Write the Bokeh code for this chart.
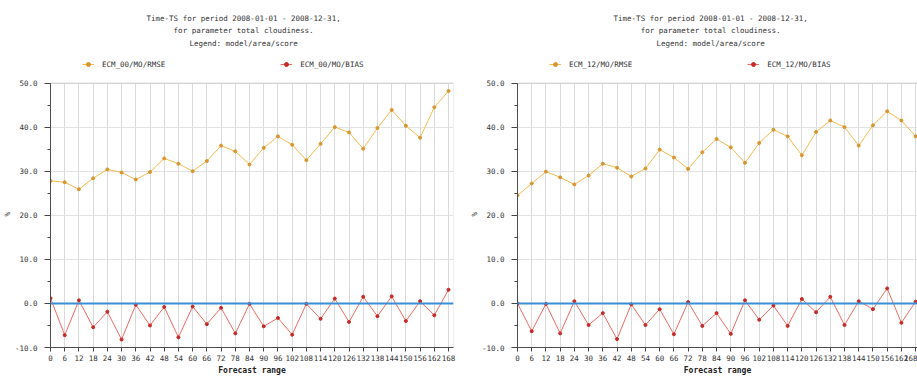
from bokeh.embed import file_html
from bokeh.layouts import row
from bokeh.models import (BoxAnnotation, ColumnDataSource, Label, Legend, LegendItem,
                          PrintfTickFormatter, Range1d, SingleIntervalTicker, Span, Title)
from bokeh.plotting import figure
from bokeh.resources import INLINE

# Forecast range (hours)
steps = [0, 6, 12, 18, 24, 30, 36, 42, 48, 54, 60, 66, 72, 78, 84, 90, 96,
         102, 108, 114, 120, 126, 132, 138, 144, 150, 156, 162, 168]

# ECM 00 UTC run
rmse_00 = [27.8, 27.5, 25.9, 28.4, 30.4, 29.7, 28.1, 29.8, 32.9, 31.7, 30.0, 32.3,
           35.8, 34.5, 31.5, 35.3, 37.9, 36.0, 32.5, 36.2, 40.0, 38.8, 35.1, 39.8,
           43.9, 40.3, 37.6, 44.5, 48.2]
bias_00 = [1.2, -7.2, 0.7, -5.4, -1.9, -8.2, -0.3, -5.0, -0.8, -7.7, -0.7, -4.7,
           -1.0, -6.8, -0.1, -5.2, -3.3, -7.1, -0.1, -3.5, 1.1, -4.2, 1.5, -2.9,
           1.6, -4.0, 0.5, -2.7, 3.1]

# ECM 12 UTC run
rmse_12 = [24.5, 27.2, 29.9, 28.6, 27.0, 29.0, 31.7, 30.8, 28.8, 30.6, 34.9, 33.1,
           30.5, 34.3, 37.3, 35.4, 31.9, 36.4, 39.4, 37.9, 33.6, 38.9, 41.5, 40.0,
           35.8, 40.4, 43.6, 41.5, 37.9]
bias_12 = [0.0, -6.3, -0.1, -6.8, 0.5, -4.9, -2.2, -8.1, -0.2, -4.9, -1.3, -7.0,
           0.3, -5.1, -2.2, -6.9, 0.7, -3.7, -0.5, -5.1, 1.0, -2.0, 1.5, -4.9,
           0.5, -1.3, 3.4, -4.4, 0.4]

# value axis limits (percent cloud cover)
y_min, y_max = -10, 50

title_lines = ["Time-TS for period 2008-01-01 - 2008-12-31,",
               "for parameter total cloudiness.",
               "Legend: model/area/score"]

FONT = "DejaVu Sans Mono"
TXT = "#333333"
RMSE_LINE, RMSE_DOT = "#f6b94e", "#d8952e"
BIAS_LINE, BIAS_DOT = "#f06a62", "#c42a26"

PX_PER_UNIT = 266 / (y_max - y_min)   # vertical scale of the data box
HEAD_PX = 83                          # room for heading and legend above the box


def panel(run, rmse, bias, width, border_right, x_end):
    src = ColumnDataSource(dict(step=steps, rmse=rmse, bias=bias))
    # the frame reaches the top of the canvas so heading/legend can live inside it
    y_top = y_max + HEAD_PX / PX_PER_UNIT
    p = figure(width=width, height=377, output_backend="svg", toolbar_location=None,
               x_range=Range1d(0, x_end), y_range=Range1d(y_min, y_top),
               min_border_left=50, min_border_right=border_right,
               min_border_top=0, min_border_bottom=28,
               background_fill_color="white", border_fill_color="white")
    p.outline_line_color = None
    p.add_layout(BoxAnnotation(left=0, right=x_end, bottom=y_min, top=y_max,
                               fill_alpha=0, line_color="#8c8c8c", line_width=1))

    # axes
    p.xaxis.ticker = SingleIntervalTicker(interval=6, num_minor_ticks=0)
    p.yaxis.ticker = SingleIntervalTicker(interval=10, num_minor_ticks=2)
    p.yaxis.formatter = PrintfTickFormatter(format="%.1f")
    p.yaxis.bounds = (y_min, y_max)
    for ax in (p.xaxis, p.yaxis):
        ax.axis_line_color = "#444444"
        ax.major_tick_line_color = "#444444"
        ax.minor_tick_line_color = "#444444"
        ax.major_tick_in = 0
        ax.minor_tick_in = 0
        ax.major_label_text_font = FONT
        ax.major_label_text_font_size = "7.5px"
        ax.major_label_text_color = TXT
    p.xaxis.major_tick_out = 4
    p.xaxis.major_label_standoff = 3
    p.xaxis.axis_label = "Forecast range"
    p.xaxis.axis_label_standoff = 2
    p.xaxis.axis_label_text_font = FONT
    p.xaxis.axis_label_text_color = "#222222"
    p.xaxis.axis_label_text_font_size = "8px"
    p.xaxis.axis_label_text_font_style = "bold"
    p.yaxis.major_tick_out = 6
    p.yaxis.minor_tick_out = 3
    p.yaxis.major_label_standoff = 7

    # unit label, level with the middle of the value axis' data span
    p.add_layout(Title(text="%", align="left", offset=131, standoff=0,
                       text_font=FONT, text_font_size="7.5px",
                       text_font_style="normal", text_color="#222222"), "left")

    # grids, kept inside the data box
    p.xgrid.grid_line_color = "#dadada"
    p.xgrid.cross_bounds = (y_min, y_max)
    p.ygrid.grid_line_color = "#e2e2e2"

    # zero reference line
    p.add_layout(Span(location=0, dimension="width", line_color="#3a8fd4",
                      line_width=2))

    r_line = p.line("step", "rmse", source=src, line_color=RMSE_LINE, line_width=1)
    r_dot = p.scatter("step", "rmse", source=src, size=3, color=RMSE_DOT)
    b_line = p.line("step", "bias", source=src, line_color=BIAS_LINE, line_width=1)
    b_dot = p.scatter("step", "bias", source=src, size=3, color=BIAS_DOT)

    legend = Legend(items=[LegendItem(label=f"ECM_{run}/MO/RMSE", renderers=[r_line, r_dot]),
                           LegendItem(label=f"ECM_{run}/MO/BIAS", renderers=[b_line, b_dot])],
                    location=(32, 278), orientation="horizontal",
                    spacing=115, padding=0, margin=0,
                    glyph_width=12, glyph_height=10, label_height=10,
                    label_standoff=8, label_text_font=FONT,
                    label_text_font_size="7.5px", label_text_color=TXT,
                    border_line_color=None, background_fill_alpha=0)
    p.add_layout(legend, "center")

    # three-line heading
    for i, line in enumerate(title_lines):
        p.add_layout(Label(x=81.5, y=y_max, y_offset=65 - 12.5 * i, text=line,
                           text_align="center", text_baseline="middle",
                           text_font=FONT, text_font_size="7.5px", text_color=TXT))
    return p


left = panel("00", rmse_00, bias_00, 467, 14, 170.1)
right = panel("12", rmse_12, bias_12, 450, 0, 168.8)

page = row(left, right, spacing=0)
open("out.html", "w").write(file_html(page, INLINE))
